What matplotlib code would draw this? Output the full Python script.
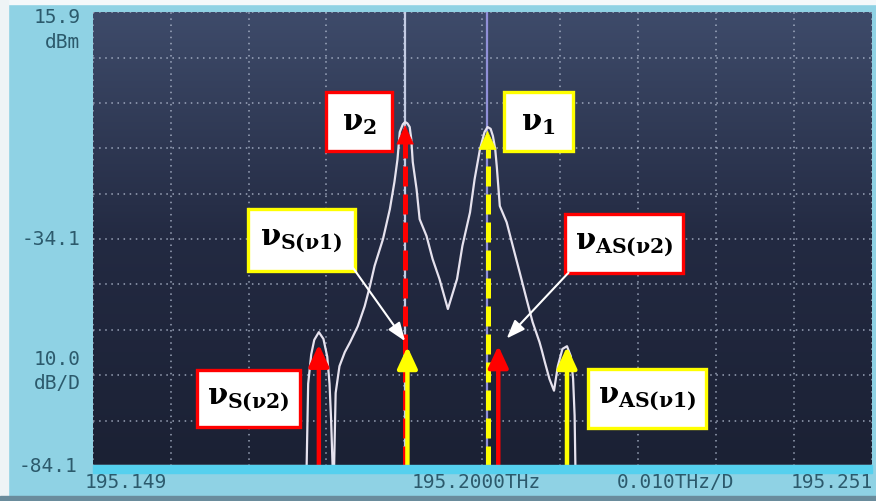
import numpy as np
import matplotlib
matplotlib.use("Agg")
import matplotlib.pyplot as plt
from matplotlib.patches import Rectangle
from matplotlib.colors import LinearSegmentedColormap

plt.rcParams['mathtext.fontset'] = 'custom'
plt.rcParams['mathtext.rm'] = 'DejaVu Serif:bold'
plt.rcParams['mathtext.it'] = 'DejaVu Serif:bold'
plt.rcParams['mathtext.bf'] = 'DejaVu Serif:bold'

# spectrum trace (THz, dBm)
freq = [195.1490, 195.1770, 195.1772, 195.1776, 195.1780, 195.1786, 195.1792,
        195.1797, 195.1800, 195.1802, 195.1804, 195.1806, 195.1808, 195.1813,
        195.1820, 195.1827, 195.1837, 195.1846, 195.1853, 195.1859, 195.1870,
        195.1879, 195.1885, 195.1889, 195.1892, 195.1896, 195.1899, 195.1902,
        195.1905, 195.1907, 195.1909, 195.1914, 195.1918, 195.1927, 195.1935,
        195.1944, 195.1955, 195.1967, 195.1974, 195.1984, 195.1990, 195.1997,
        195.2003, 195.2007, 195.2011, 195.2014, 195.2017, 195.2019, 195.2023,
        195.2032, 195.2040, 195.2049, 195.2058, 195.2066, 195.2075, 195.2078,
        195.2082, 195.2088, 195.2094, 195.2099, 195.2105, 195.2111, 195.2116,
        195.2119, 195.2121, 195.2122, 195.2510]
power = [-84.1, -84.1, -66.0, -59.5, -56.3, -54.6, -56.1,
         -60.0, -66.0, -73.7, -84.1, -84.1, -68.0, -62.1,
         -59.0, -56.8, -53.3, -48.9, -44.4, -40.0, -34.1,
         -27.5, -21.5, -16.5, -10.5, -8.8, -8.3, -8.6,
         -9.4, -12.0, -17.1, -23.1, -29.7, -33.4, -38.5,
         -42.9, -49.5, -42.9, -35.6, -28.2, -20.9, -14.3,
         -10.5, -9.4, -9.8, -11.4, -14.3, -18.0, -26.8,
         -30.4, -35.6, -41.4, -47.3, -52.4, -56.8, -58.6,
         -61.2, -64.9, -67.5, -62.1, -58.3, -57.7, -59.9,
         -64.9, -73.0, -84.1, -84.1]

# marker lines of the analyzer
marker_freq = [195.1899, 195.2006]
marker_color = ['#c4cce4', '#9090d8']

# annotation arrows: frequency, tip level, colour, dashed
arrow_freq = [195.1786, 195.1899, 195.1902, 195.2007, 195.2021, 195.2111]
arrow_tip = [-57.3, -9.0, -57.8, -10.2, -57.6, -57.8]
arrow_color = ['red', 'red', 'yellow', 'yellow', 'red', 'yellow']
arrow_dashed = [False, True, False, True, False, False]

# label boxes: text, border colour, (x0, x1, y0, y1) in data units
box_text = [r'$\nu_2$', r'$\nu_1$', r'$\nu_{S(\nu 1)}$', r'$\nu_{AS(\nu 2)}$',
            r'$\nu_{S(\nu 2)}$', r'$\nu_{AS(\nu 1)}$']
box_color = ['red', 'yellow', 'yellow', 'red', 'red', 'yellow']
box_extent = [(195.1796, 195.1882, -14.7, -1.7),
              (195.2028, 195.2119, -14.7, -1.7),
              (195.1693, 195.1833, -41.1, -27.5),
              (195.2109, 195.2263, -41.6, -28.6),
              (195.1626, 195.1761, -75.5, -63.0),
              (195.2138, 195.2293, -75.7, -62.7)]

f_min, f_max = 195.149, 195.251
p_min, p_max = -84.1, 15.9

fig = plt.figure(figsize=(8.76, 5.02), dpi=100, facecolor='#8fd2e4')
# photo frame bits
fig.patches.append(Rectangle((0, 0.99), 1, 0.01, transform=fig.transFigure,
                             color='#f4f8fa', zorder=0))
fig.patches.append(Rectangle((0, 0), 0.009, 1, transform=fig.transFigure,
                             color='#eef4f6', zorder=0))
fig.patches.append(Rectangle((0, 0), 1, 0.01, transform=fig.transFigure,
                             color='#6a8c9c', zorder=0))
fig.patches.append(Rectangle((0.106, 0.055), 0.89, 0.016, transform=fig.transFigure,
                             color='#55d0ee', zorder=0))

ax = fig.add_axes([0.106, 0.0697, 0.889, 0.904])
ax.set_xlim(f_min, f_max)
ax.set_ylim(p_min, p_max)

# screen background gradient
cmap = LinearSegmentedColormap.from_list('scr', ['#1b2134', '#232a42', '#3e4b6a'])
grad = np.linspace(0, 1, 256).reshape(-1, 1)
ax.imshow(grad, extent=[f_min, f_max, p_min, p_max], origin='lower',
          aspect='auto', cmap=cmap, zorder=0)

ax.set_xticks(np.linspace(f_min, f_max, 11))
ax.set_yticks(np.linspace(p_min, p_max, 11))
ax.grid(True, color='#b8c2d6', linestyle=(0, (1, 3)), linewidth=1.1, alpha=0.8)
ax.tick_params(length=0, labelbottom=False, labelleft=False)
for s in ax.spines.values():
    s.set_visible(False)

for mf, mc in zip(marker_freq, marker_color):
    ax.axvline(mf, color=mc, lw=1.6, zorder=2)

ax.plot(freq, power, color='#e6e2ee', lw=1.6, zorder=3)

for f, tip, c, dashed in zip(arrow_freq, arrow_tip, arrow_color, arrow_dashed):
    head = 4.0
    if dashed:
        ax.plot([f, f], [p_min, tip - head], color=c, lw=3.6,
                linestyle=(0, (4, 1.6)), solid_capstyle='butt', zorder=4)
        ax.annotate('', xy=(f, tip), xytext=(f, tip - head - 0.5),
                    arrowprops=dict(arrowstyle='-|>,head_width=0.3,head_length=0.65',
                                    color=c, lw=0.5, shrinkA=0, shrinkB=0,
                                    mutation_scale=20), zorder=5)
    else:
        ax.annotate('', xy=(f, tip), xytext=(f, p_min),
                    arrowprops=dict(arrowstyle='-|>,head_width=0.3,head_length=0.65',
                                    color=c, lw=3.2, shrinkA=0, shrinkB=0,
                                    mutation_scale=20), zorder=5)

for txt, c, (x0, x1, y0, y1) in zip(box_text, box_color, box_extent):
    ax.add_patch(Rectangle((x0, y0), x1 - x0, y1 - y0, facecolor='white',
                           edgecolor=c, lw=2.4, zorder=6))
    ax.text((x0 + x1) / 2, (y0 + y1) / 2, txt, fontsize=21, color='black',
            ha='center', va='center', zorder=7)

# white pointers to the weak mixing products
ax.annotate('', xy=(195.1899, -56.6), xytext=(195.1831, -40.5),
            arrowprops=dict(arrowstyle='-|>,head_width=0.3,head_length=0.8',
                            color='white', lw=1.5, shrinkA=0, shrinkB=0,
                            mutation_scale=14), zorder=6)
ax.annotate('', xy=(195.2032, -56.0), xytext=(195.2113, -41.5),
            arrowprops=dict(arrowstyle='-|>,head_width=0.3,head_length=0.8',
                            color='white', lw=1.5, shrinkA=0, shrinkB=0,
                            mutation_scale=14), zorder=6)

# analyzer screen texts
lab = dict(family='DejaVu Sans Mono', fontsize=14, color='#2c5a6c')
fig.text(0.092, 0.966, '15.9', ha='right', va='center', **lab)
fig.text(0.092, 0.915, 'dBm', ha='right', va='center', **lab)
fig.text(0.092, 0.522, '-34.1', ha='right', va='center', **lab)
fig.text(0.092, 0.283, '10.0', ha='right', va='center', **lab)
fig.text(0.092, 0.237, 'dB/D', ha='right', va='center', **lab)
fig.text(0.088, 0.070, '-84.1', ha='right', va='center', **lab)
fig.text(0.097, 0.038, '195.149', ha='left', va='center', **lab)
fig.text(0.470, 0.038, '195.2000THz', ha='left', va='center', **lab)
fig.text(0.704, 0.038, '0.010THz/D', ha='left', va='center', **lab)
fig.text(0.997, 0.038, '195.251', ha='right', va='center', **lab)

fig.savefig('out.png', dpi=100, facecolor=fig.get_facecolor())
